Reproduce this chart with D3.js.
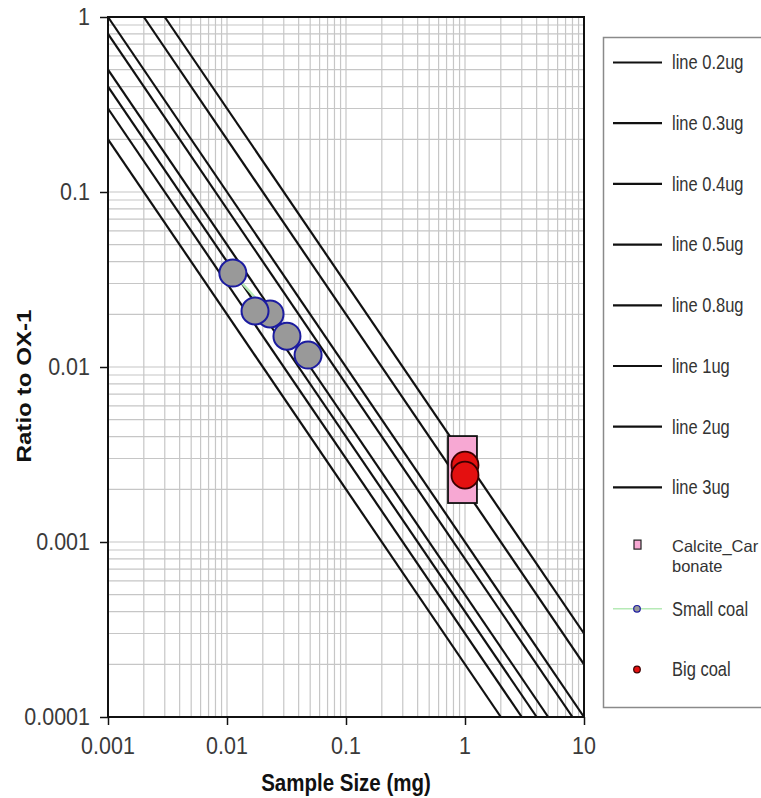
<!DOCTYPE html>
<meta charset="utf-8">
<style>
body { margin: 0; background: #fff; font-family: "Liberation Sans", Arial, sans-serif; }
.grid line { stroke: #c6c6c6; stroke-width: 1.2; }
.tick-label { font-size: 21.5px; fill: #3a3a3a; }
.legend-text { font-size: 16.5px; fill: #333; }
.title { font-size: 20.5px; font-weight: bold; fill: #111; }
</style>
<body>
<svg width="761" height="798"></svg>
<script src="https://cdnjs.cloudflare.com/ajax/libs/d3/7.8.5/d3.min.js"></script>
<script>

// blank lines: name, start point and end point
var lineNames  = ["line 0.2ug", "line 0.3ug", "line 0.4ug", "line 0.5ug", "line 0.8ug", "line 1ug", "line 2ug", "line 3ug"];
var lineStartX = [0.001, 0.001, 0.001, 0.001, 0.001, 0.001, 0.002, 0.003];
var lineStartY = [0.2, 0.3, 0.4, 0.5, 0.8, 1, 1, 1];
var lineEndX   = [2, 3, 4, 5, 8, 10, 10, 10];
var lineEndY   = [0.0001, 0.0001, 0.0001, 0.0001, 0.0001, 0.0001, 0.0002, 0.0003];

// Calcite_Carbonate box
var calciteX = [0.72, 1.26];
var calciteY = [0.00167, 0.00403];

// Small coal
var smallX = [0.0112, 0.0230, 0.0172, 0.0319, 0.048];
var smallY = [0.0344, 0.0201, 0.0209, 0.0150, 0.0117];

// Big coal
var bigX = [1.0, 1.0];
var bigY = [0.00275, 0.00241];

var xTicks = [0.001, 0.01, 0.1, 1, 10];
var xTickLabels = ["0.001", "0.01", "0.1", "1", "10"];
var yTicks = [0.0001, 0.001, 0.01, 0.1, 1];
var yTickLabels = ["0.0001", "0.001", "0.01", "0.1", "1"];

var svg = d3.select("svg");
var sy = 1.18;  // picture text is stretched vertically
var syt = 1.12;

var x = d3.scaleLog().domain([0.001, 10]).range([108, 584]);
var y = d3.scaleLog().domain([0.0001, 1]).range([717, 17]);

// grid lines (major + minor)
var gx = [], gy = [];
for (var e = -3; e < 1; e++) for (var m = 1; m < 10; m++) gx.push(m * Math.pow(10, e));
for (var e2 = -4; e2 < 0; e2++) for (var m2 = 1; m2 < 10; m2++) gy.push(m2 * Math.pow(10, e2));

var grid = svg.append("g").attr("class", "grid");
grid.selectAll(".gx").data(gx).enter().append("line")
    .attr("x1", function(d) { return x(d); }).attr("x2", function(d) { return x(d); })
    .attr("y1", y(0.0001)).attr("y2", y(1));
grid.selectAll(".gy").data(gy).enter().append("line")
    .attr("y1", function(d) { return y(d); }).attr("y2", function(d) { return y(d); })
    .attr("x1", x(0.001)).attr("x2", x(10));

// blank lines
svg.append("g").selectAll("line").data(lineNames).enter().append("line")
    .attr("x1", function(d, i) { return x(lineStartX[i]); })
    .attr("y1", function(d, i) { return y(lineStartY[i]); })
    .attr("x2", function(d, i) { return x(lineEndX[i]); })
    .attr("y2", function(d, i) { return y(lineEndY[i]); })
    .attr("stroke", "#111").attr("stroke-width", 2.2);

// Calcite box
svg.append("rect")
    .attr("x", x(calciteX[0])).attr("y", y(calciteY[1]))
    .attr("width", x(calciteX[1]) - x(calciteX[0]))
    .attr("height", y(calciteY[0]) - y(calciteY[1]))
    .attr("fill", "#f7a8d3").attr("stroke", "#111").attr("stroke-width", 1.8);

// small coal
var smallPts = smallX.map(function(v, i) { return [x(v), y(smallY[i])]; });
svg.append("path").attr("d", d3.line()(smallPts))
    .attr("fill", "none").attr("stroke", "#b6eab6").attr("stroke-width", 2.5);
svg.append("g").selectAll("circle").data(smallPts).enter().append("circle")
    .attr("cx", function(d) { return d[0]; }).attr("cy", function(d) { return d[1]; })
    .attr("r", 13.5).attr("fill", "#999999").attr("stroke", "#1c1ca0").attr("stroke-width", 2);

// big coal
svg.append("g").selectAll("circle").data(bigX).enter().append("circle")
    .attr("cx", function(d) { return x(d); }).attr("cy", function(d, i) { return y(bigY[i]); })
    .attr("r", 13.5).attr("fill", "#e41010").attr("stroke", "#3a0000").attr("stroke-width", 1.8);

// frame and axes
svg.append("rect").attr("x", x(0.001)).attr("y", y(1))
    .attr("width", x(10) - x(0.001)).attr("height", y(0.0001) - y(1))
    .attr("fill", "none").attr("stroke", "#111").attr("stroke-width", 2);

svg.append("g").attr("transform", "translate(0," + y(0.0001) + ")")
    .call(d3.axisBottom(x).tickValues(xTicks).tickFormat("").tickSize(8).tickSizeOuter(0))
    .call(function(g) { g.select(".domain").remove(); g.selectAll("line").attr("stroke", "#111").attr("stroke-width", 1.5); });
svg.append("g").attr("transform", "translate(" + x(0.001) + ",0)")
    .call(d3.axisLeft(y).tickValues(yTicks).tickFormat("").tickSize(8).tickSizeOuter(0))
    .call(function(g) { g.select(".domain").remove(); g.selectAll("line").attr("stroke", "#111").attr("stroke-width", 1.5); });

svg.selectAll(".xl").data(xTicks).enter().append("text")
    .attr("class", "tick-label").attr("text-anchor", "middle").attr("dy", "0.35em")
    .attr("transform", function(d) { return "translate(" + x(d) + ",746) scale(1," + syt + ")"; })
    .text(function(d, i) { return xTickLabels[i]; });
svg.selectAll(".yl").data(yTicks).enter().append("text")
    .attr("class", "tick-label").attr("text-anchor", "end").attr("dy", "0.35em")
    .attr("transform", function(d) { return "translate(90," + y(d) + ") scale(1," + syt + ")"; })
    .text(function(d, i) { return yTickLabels[i]; });

svg.append("text").attr("class", "title").attr("text-anchor", "middle").attr("dy", "0.35em")
    .attr("transform", "translate(346,783) scale(1," + sy + ")").text("Sample Size (mg)");
svg.append("text").attr("class", "title").attr("text-anchor", "middle").attr("dy", "0.35em")
    .attr("transform", "translate(24,386) scale(1," + sy + ") rotate(-90)").text("Ratio to OX-1");

// legend
var lg = svg.append("g");
lg.append("rect").attr("x", 603.5).attr("y", 37.5).attr("width", 200).attr("height", 670)
    .attr("fill", "#fff").attr("stroke", "#8a8a8a").attr("stroke-width", 1.5);
var slot = 60.7, top0 = 62.5;
lineNames.forEach(function(n, i) {
  var yy = top0 + i * slot;
  lg.append("line").attr("x1", 613).attr("x2", 662).attr("y1", yy).attr("y2", yy)
      .attr("stroke", "#111").attr("stroke-width", 2.2);
  lg.append("text").attr("class", "legend-text").attr("dy", "0.35em")
      .attr("transform", "translate(672," + yy + ") scale(1," + sy + ")").text(n);
});
var yc = top0 + 8 * slot;
lg.append("rect").attr("x", 634).attr("y", yc - 8).attr("width", 7).attr("height", 9)
    .attr("fill", "#f7a8d3").attr("stroke", "#222").attr("stroke-width", 1.2);
lg.append("text").attr("class", "legend-text").attr("dy", "0.35em")
    .attr("transform", "translate(672," + (yc - 2) + ")").text("Calcite_Car");
lg.append("text").attr("class", "legend-text").attr("dy", "0.35em")
    .attr("transform", "translate(672," + (yc + 18) + ")").text("bonate");
var ys = top0 + 9 * slot;
lg.append("line").attr("x1", 613).attr("x2", 662).attr("y1", ys).attr("y2", ys)
    .attr("stroke", "#b6eab6").attr("stroke-width", 1.5);
lg.append("circle").attr("cx", 637).attr("cy", ys).attr("r", 3.3)
    .attr("fill", "#999").attr("stroke", "#1c1ca0").attr("stroke-width", 1.2);
lg.append("text").attr("class", "legend-text").attr("dy", "0.35em")
    .attr("transform", "translate(672," + ys + ") scale(1," + sy + ")").text("Small coal");
var yb = top0 + 10 * slot;
lg.append("circle").attr("cx", 637).attr("cy", yb).attr("r", 3.3)
    .attr("fill", "#e41010").attr("stroke", "#3a0000").attr("stroke-width", 1.2);
lg.append("text").attr("class", "legend-text").attr("dy", "0.35em")
    .attr("transform", "translate(672," + yb + ") scale(1," + sy + ")").text("Big coal");

</script>
</body>
